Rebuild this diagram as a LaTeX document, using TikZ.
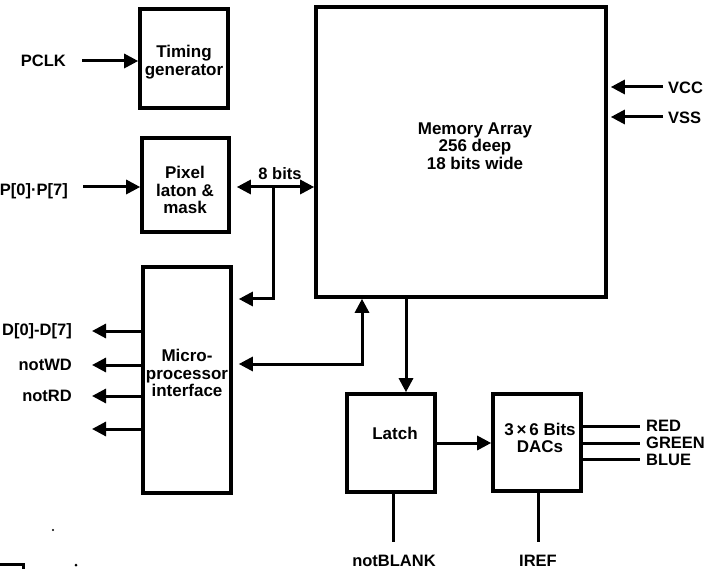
\documentclass[tikz,border=0pt]{standalone}
\usepackage{fontspec}
\setmainfont{Liberation Sans}
\usetikzlibrary{arrows.meta}
\tikzset{
  txt/.style={font=\fontsize{17}{17.5}\selectfont\bfseries, inner sep=0pt, align=center},
  lbl/.style={font=\fontsize{16.5}{17.5}\selectfont\bfseries, inner sep=0pt, align=center},
  box/.style={draw, line width=3.6pt, inner sep=0pt},
  ln/.style={line width=3pt},
  arr/.style={ln, -{Triangle[length=14pt,width=14pt]}},
  dbl/.style={ln, {Triangle[length=14pt,width=14pt]}-{Triangle[length=14pt,width=14pt]}},
}
\begin{document}
\begin{tikzpicture}[x=1pt,y=-1pt]
\useasboundingbox (0,0) rectangle (704,569);
% boxes
\node[box, minimum width=88pt, minimum height=99pt] (tg) at (184,58.5) {};
\node[box, minimum width=87pt, minimum height=94pt] (px) at (185.5,185) {};
\node[box, minimum width=88pt, minimum height=226pt] (mp) at (187,380) {};
\node[box, minimum width=290pt, minimum height=290pt] (mem) at (461,152) {};
\node[box, minimum width=88pt, minimum height=98pt] (lt) at (391,443) {};
\node[box, minimum width=88pt, minimum height=97pt] (dac) at (537,442.5) {};
% box texts
\node[txt] (tgt) at (184,62) {Timing\\generator};
\node[txt] (pxt) at (185,190) {Pixel\\laton \&\\mask};
\node[txt] (mpt) at (187,373) {Micro-\\processor\\interface};
\node[txt] (memt) at (475,146) {Memory Array\\256 deep\\18 bits wide};
\node[txt] (ltt) at (395,433) {Latch};
\node[txt] (dact) at (540,438) {3\,×\,6 Bits\\DACs};
% coordinates
\coordinate (pclk) at (82,61);
\coordinate (pin) at (83,187);
\coordinate (b8) at (273,187);
\coordinate (bb) at (273,299);
\coordinate (mc) at (362,364);
\coordinate (ml) at (406,0);
\coordinate (vcc) at (663,87);
\coordinate (vss) at (663,117);
\coordinate (d0) at (92,331);
\coordinate (d1) at (92,365);
\coordinate (d2) at (92,396);
\coordinate (d3) at (92,429);
\coordinate (ld) at (0,443);
\coordinate (red) at (640,426);
\coordinate (grn) at (640,443);
\coordinate (blu) at (640,459);
\coordinate (nb) at (393,542);
\coordinate (ir) at (538,542);
% connectors
\draw[arr] (pclk) -- (pclk -| tg.west);
\draw[arr] (pin) -- (pin -| px.west);
\draw[dbl, shorten <=6pt] (px.east |- b8) -- (mem.west |- b8);
\draw[arr, shorten >=6pt] (b8) -- (bb) -- (bb -| mp.east);
\draw[dbl, shorten <=6pt] (mp.east |- mc) -- (mc) -- (mc |- mem.south);
\draw[arr] (mem.south -| ml) -- (lt.north -| ml);
\draw[arr, shorten >=3pt] (vcc) -- (vcc -| mem.east);
\draw[arr, shorten >=3pt] (vss) -- (vss -| mem.east);
\draw[arr] (mp.west |- d0) -- (d0);
\draw[arr] (mp.west |- d1) -- (d1);
\draw[arr] (mp.west |- d2) -- (d2);
\draw[arr] (mp.west |- d3) -- (d3);
\draw[arr] (lt.east |- ld) -- (dac.west |- ld);
\draw[ln] (dac.east |- red) -- (red);
\draw[ln] (dac.east |- grn) -- (grn);
\draw[ln] (dac.east |- blu) -- (blu);
\draw[ln] (lt.south -| nb) -- (nb);
\draw[ln] (dac.south -| ir) -- (ir);
% labels
\node[lbl, anchor=east] (lpclk) at (66,61) {PCLK};
\node[lbl, anchor=east] (lpin) at (68,191) {P[0]·P[7]};
\node[lbl] (l8) at (280,174) {8 bits};
\node[lbl, anchor=west] (lvcc) at (668,88) {VCC};
\node[lbl, anchor=west] (lvss) at (668,118) {VSS};
\node[lbl, anchor=east] (ld0) at (72,331) {D[0]-D[7]};
\node[lbl, anchor=east] (ld1) at (72,365) {notWD};
\node[lbl, anchor=east] (ld2) at (72,396) {notRD};
\node[lbl, anchor=west] (lred) at (646,426) {RED};
\node[lbl, anchor=west] (lgrn) at (646,443) {GREEN};
\node[lbl, anchor=west] (lblu) at (646,460) {BLUE};
\node[lbl] (lnb) at (394,561) {notBLANK};
\node[lbl] (lir) at (538,561) {IREF};
% scan fragments
\draw[line width=3pt] (0,564) -- (23,564) -- (23,569);
\fill (53,530) circle (1.2pt);
\fill (76,565) circle (1.5pt);
\end{tikzpicture}
\end{document}
